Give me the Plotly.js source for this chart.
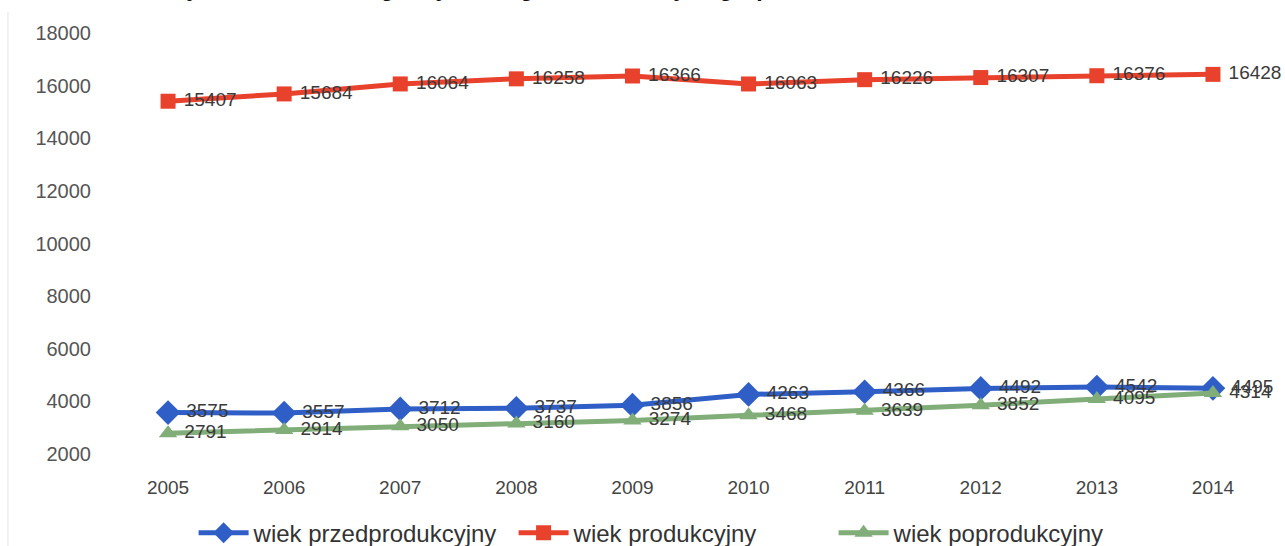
<!DOCTYPE html>
<html>
<head>
<meta charset="utf-8">
<script src="https://cdn.plot.ly/plotly-3.0.1.min.js"></script>
<style>html,body{margin:0;padding:0;background:#fff;}#chart{width:1285px;height:546px;}</style>
</head>
<body>
<div id="chart"></div>
<script>
const years = ["2005","2006","2007","2008","2009","2010","2011","2012","2013","2014"];
const przedprodukcyjny = [3575,3557,3712,3737,3856,4263,4366,4492,4542,4495];
const produkcyjny = [15407,15684,16064,16258,16366,16063,16226,16307,16376,16428];
const poprodukcyjny = [2791,2914,3050,3160,3274,3468,3639,3852,4095,4314];
const seriesNames = ["wiek przedprodukcyjny","wiek produkcyjny","wiek poprodukcyjny"];
const yTicks = [2000,4000,6000,8000,10000,12000,14000,16000,18000];
const titleText = "Wykres 1. Ludność gminy według ekonomicznych grup wieku w latach 2005-2014";

const FONT = "Liberation Sans, Arial, sans-serif";
const labelFont = {family: FONT, size: 19, color: "#3a3a3a"};
function mk(y, name, color, symbol, msize){
  return {
    x: years, y: y, name: name, type: "scatter", mode: "lines+markers+text",
    text: y.map(String), texttemplate: " %{text}", textposition: "middle right", textfont: labelFont,
    line: {color: color, width: 5},
    marker: {color: color, symbol: symbol, size: msize},
    cliponaxis: false
  };
}
const data = [
  mk(przedprodukcyjny, seriesNames[0], "#2f5fc6", "diamond", 19),
  mk(produkcyjny, seriesNames[1], "#e8412c", "square", 15),
  mk(poprodukcyjny, seriesNames[2], "#80ad78", "triangle-up", 16)
];
const layout = {
  width: 1285, height: 546,
  margin: {l:110, r:14, t:33, b:92, autoexpand: false},
  paper_bgcolor: "#fff", plot_bgcolor: "#fff",
  showlegend: true,
  font: {family: FONT, color: "#444"},
  xaxis: {
    type: "category", range: [-0.5, 9.5], showgrid: false, zeroline: false, showline: false,
    ticks: "outside", ticklen: 16, tickcolor: "rgba(0,0,0,0)",
    tickfont: {family: FONT, size: 19, color: "#444"}
  },
  yaxis: {
    range: [2000, 18000], tickvals: yTicks, ticktext: yTicks.map(String),
    showgrid: false, zeroline: false, showline: false,
    ticks: "outside", ticklen: 14, tickcolor: "rgba(0,0,0,0)",
    tickfont: {family: FONT, size: 20, color: "#555"}
  },
  legend: {
    orientation: "h", x: 0.072, xanchor: "left", y: -0.188, yanchor: "middle",
    font: {family: FONT, size: 24, color: "#333"},
    itemwidth: 50, entrywidth: 255, entrywidthmode: "pixels"
  },
  annotations: [{
    text: "<b>" + titleText + "</b>", xref: "paper", yref: "paper",
    x: 0.43, y: 1, xanchor: "center", yanchor: "middle", yshift: 45, showarrow: false,
    font: {family: FONT, size: 23, color: "#111"}
  }],
  shapes: [{
    type: "line", xref: "paper", yref: "paper", x0: -0.0879, x1: -0.0879, y0: -0.25, y1: 1.05,
    line: {color: "#e6e6e6", width: 1}
  }]
};
Plotly.newPlot("chart", data, layout, {displayModeBar: false, staticPlot: true});
</script>
</body>
</html>
